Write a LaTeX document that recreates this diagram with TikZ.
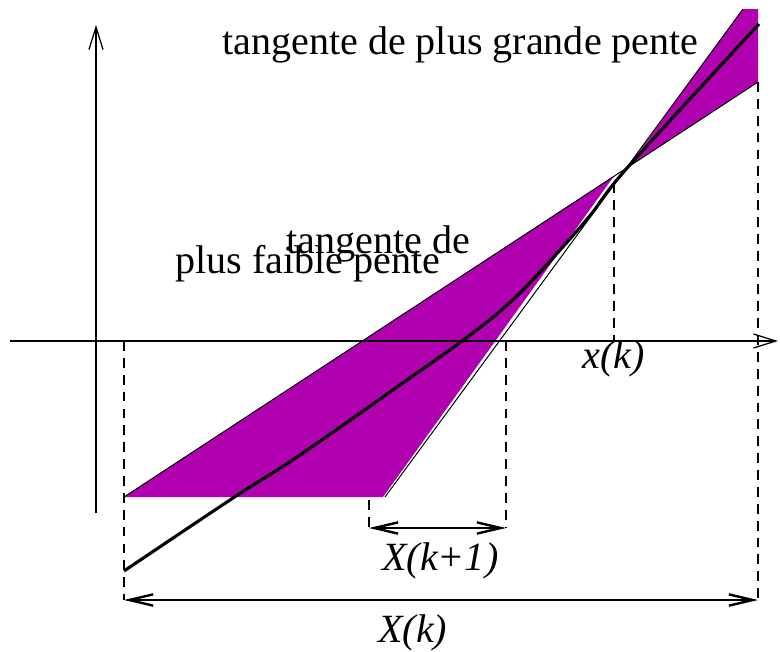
\documentclass[tikz,border=0pt]{standalone}
\usepackage{fontspec}
\setmainfont{Liberation Serif}
\usetikzlibrary{arrows.meta}
\definecolor{zone}{RGB}{176,0,176}
\begin{document}
\begin{tikzpicture}[x=0.025cm, y=-0.025cm,
    axe/.style = {line width=0.9pt, -{Straight Barb[length=16pt, width=10pt]}},
    tang/.style = {line width=0.7pt},
    courbe/.style = {line width=2.2pt},
    rep/.style = {dash pattern=on 7pt off 5pt, line width=0.8pt},
    cote/.style = {line width=1.7pt, {Straight Barb[length=17pt, width=8pt]}-{Straight Barb[length=17pt, width=8pt]}},
    lbl/.style = {inner sep=0pt, anchor=base west, font=\fontsize{28.5}{30}\selectfont}]
    \useasboundingbox (0,0) rectangle (780,651);
    % points
    \coordinate (ax0) at (10,341);  \coordinate (ax1) at (778,341);
    \coordinate (ay0) at (96,513);  \coordinate (ay1) at (96,25);
    \coordinate (fA) at (124,497);  \coordinate (fB) at (758,82);
    \coordinate (gA) at (385,497);  \coordinate (gB) at (743,9);
    \coordinate (I) at (628,167);   \coordinate (top) at (758,9);
    \coordinate (fL) at (614,176);  \coordinate (gL) at (383,497);
    % zones
    \fill[zone] (fA) -- (fL) -- (gL) -- cycle;
    \fill[zone] (I) -- (gB) -- (top) -- (fB) -- cycle;
    % tangentes
    \draw[tang] (fA) -- (fB);
    \draw[tang] (gA) -- (gB);
    % axes
    \draw[axe] (ax0) -- (ax1);
    \draw[axe] (ay0) -- (ay1);
    % courbe
    \draw[courbe] plot[smooth, tension=0.6] coordinates {(124,571) (233,498) (300,455) (407,380) (462,341) (505,307) (540,272) (588,218) (628,167) (759,24)};
    % reperes
    \coordinate (d1) at (124,341); \coordinate (c1) at (124,600);
    \coordinate (d2) at (506,341); \coordinate (c2) at (506,528);
    \coordinate (d3) at (369,500); \coordinate (c3) at (369,528);
    \coordinate (d4) at (614,183); \coordinate (c4) at (614,341);
    \coordinate (d5) at (758,82);  \coordinate (c5) at (758,600);
    \foreach \a in {1,...,5} \draw[rep] (d\a) -- (c\a);
    % cotes
    \draw[cote] (c3) -- (c2);
    \draw[cote] (c1) -- (c5);
    % textes
    \node[lbl] (grande) at (222,54) {tangente de plus grande pente};
    \node[lbl] (faible1) at (286,253) {tangente de};
    \node[lbl] (faible2) at (175,273) {plus faible pente};
    \node[lbl] (xk) at (582,368) {\textit{x(k)}};
    \node[lbl] (Xk1) at (382,570) {\textit{X(k+1)}};
    \node[lbl] (Xk) at (378,642) {\textit{X(k)}};
\end{tikzpicture}
\end{document}
